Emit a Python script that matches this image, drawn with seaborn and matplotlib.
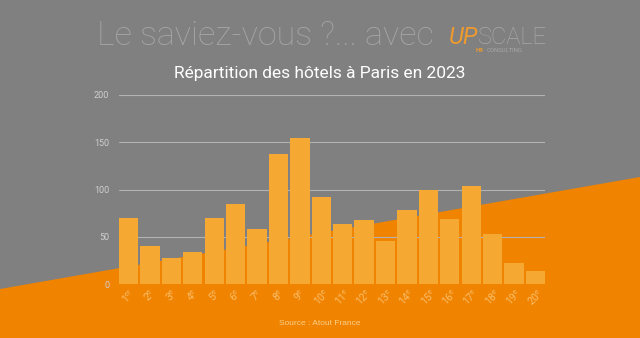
import matplotlib
matplotlib.use("Agg")
import matplotlib.pyplot as plt
import seaborn as sns
import pandas as pd
import re
from matplotlib.patches import Polygon

arrondissements = ["1er", "2e", "3e", "4e", "5e", "6e", "7e", "8e", "9e", "10e",
                   "11e", "12e", "13e", "14e", "15e", "16e", "17e", "18e", "19e", "20e"]
hotels = [70, 40, 27, 34, 70, 85, 58, 138, 155, 92,
          63, 68, 46, 78, 100, 69, 104, 53, 22, 14]
y_ticks = [0, 50, 100, 150, 200]

sns.set_theme(style="white")
plt.rcParams['font.family'] = ['Roboto', 'DejaVu Sans']
plt.rcParams['mathtext.fontset'] = 'custom'
plt.rcParams['mathtext.rm'] = 'Roboto'
plt.rcParams['mathtext.it'] = 'Roboto'

GRAY = "#808080"
ORANGE = "#F08300"
BAR = "#F5A933"

fig = plt.figure(figsize=(6.4, 3.38), dpi=100)
fig.patch.set_facecolor(GRAY)

bg = fig.add_axes([0, 0, 1, 1], zorder=-1)
bg.set_xlim(0, 640); bg.set_ylim(338, 0); bg.axis("off")
bg.add_patch(Polygon([[0, 289], [640, 177], [640, 338], [0, 338]], closed=True,
                     facecolor=ORANGE, edgecolor="none"))

ax = fig.add_axes([119/640, (338-284)/338, (545-119)/640, (284-95)/338])
ax.patch.set_alpha(0)
df = pd.DataFrame({"arr": arrondissements, "n": hotels})
sns.barplot(data=df, x="arr", y="n", color=BAR, width=0.9, saturation=1, ax=ax,
            zorder=3, edgecolor="none", linewidth=0)
ax.set_xlim(-0.45, 19.45)
ax.set_ylim(0, 200)
ax.set_yticks(y_ticks)
ax.set_yticklabels([str(t) for t in y_ticks], color="#cfcfcf", fontsize=6.5)
ax.tick_params(axis="y", length=0, pad=7)
ax.tick_params(axis="x", length=0, pad=2)
labels = [re.sub(r"^(\d+)(\D+)$", r"\1$^{\\mathrm{\2}}$", a) for a in arrondissements]
ax.set_xticks(range(len(labels)))
ax.set_xticklabels(labels, rotation=45, ha="center", color="#F9BE6A", fontsize=7.5)
ax.set_xlabel(""); ax.set_ylabel("")
for s in ax.spines.values():
    s.set_visible(False)
for t in y_ticks[1:]:
    ax.axhline(t, color="#b3b3b3", lw=0.8, zorder=1)

fig.text(97/640, 1-45/338, "Le saviez-vous ?... avec", color="#a6a6a6", fontsize=24.5,
         fontweight="light", ha="left", va="baseline")
fig.text(449/640, 1-44/338, "UP", color="#EE9A2E", fontsize=17, fontstyle="italic",
         ha="left", va="baseline")
fig.text(478/640, 1-44/338, "SCALE", color="#a8a8a8", fontsize=17, fontweight="light",
         ha="left", va="baseline")
fig.text(476/640, 1-52.5/338, "HR", color="#EE9A2E", fontsize=4.2, fontweight="bold",
         ha="left", va="baseline")
fig.text(487/640, 1-52.5/338, "CONSULTING", color="#a8a8a8", fontsize=4.2,
         ha="left", va="baseline")
fig.text(0.5, 1-78/338, "Répartition des hôtels à Paris en 2023", color="white",
         fontsize=12.5, ha="center", va="baseline")
fig.text(320/640, 1-325/338, "Source : Atout France", color="#F9D08A", fontsize=6,
         ha="center", va="baseline", family=["Liberation Sans", "DejaVu Sans"])

fig.savefig("out.png", dpi=100, facecolor=GRAY)
